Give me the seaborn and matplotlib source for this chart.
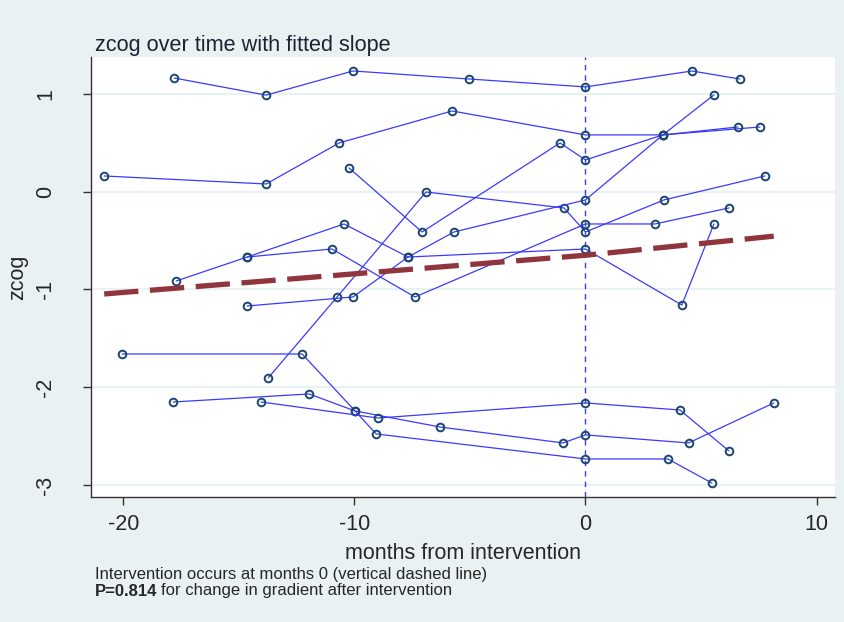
import numpy as np
import pandas as pd
import matplotlib
matplotlib.use("Agg")
import matplotlib.pyplot as plt
import seaborn as sns
from matplotlib import font_manager

# ---- data: months from intervention / zcog per subject ----
s1_months = [-17.80, -13.82, -10.06, -5.04, 0.0, 4.61, 6.68]
s1_zcog = [1.163, 0.988, 1.235, 1.153, 1.072, 1.235, 1.153]

s2_months = [-20.83, -13.82, -10.66, -5.77, 0.0, 3.35, 7.55]
s2_zcog = [0.161, 0.079, 0.499, 0.826, 0.581, 0.581, 0.662]

s3_months = [-10.23, -7.07, -1.10, 0.0, 3.35, 6.60]
s3_zcog = [0.243, -0.412, 0.499, 0.325, 0.581, 0.662]

s4_months = [-13.73, -10.75, -6.90, -0.93, 0.0, 3.40, 7.76]
s4_zcog = [-1.905, -1.077, -0.003, -0.166, -0.412, -0.084, 0.161]

s5_months = [-14.64, -10.06, -7.68, -5.69, 0.0, 3.35, 5.56]
s5_zcog = [-1.169, -1.077, -0.668, -0.412, -0.084, 0.581, 0.990]

s6_months = [-17.71, -14.64, -10.45, -7.68, 0.0, 4.17, 5.56]
s6_zcog = [-0.913, -0.668, -0.330, -0.668, -0.586, -1.159, -0.330]

s7_months = [-14.64, -10.97, -7.38, 0.0, 3.01, 6.21]
s7_zcog = [-0.668, -0.586, -1.077, -0.330, -0.330, -0.166]

s8_months = [-20.05, -12.26, -9.97, -9.06, 0.0, 3.57, 5.47]
s8_zcog = [-1.660, -1.660, -2.243, -2.478, -2.734, -2.734, -2.980]

s9_months = [-17.84, -11.96, -9.97, -6.29, -0.97, 0.0, 4.46, 8.15]
s9_zcog = [-2.151, -2.069, -2.243, -2.407, -2.570, -2.488, -2.570, -2.161]

s10_months = [-14.04, -8.98, 0.0, 4.09, 6.21]
s10_zcog = [-2.151, -2.315, -2.161, -2.233, -2.652]

# fitted piecewise slope (kink at intervention)
fit_months = [-20.83, 0.0, 8.15]
fit_zcog = [-1.046, -0.650, -0.455]

x_ticks = [-20, -10, 0, 10]
y_ticks = [-3, -2, -1, 0, 1]

subjects = [
    (s1_months, s1_zcog), (s2_months, s2_zcog), (s3_months, s3_zcog),
    (s4_months, s4_zcog), (s5_months, s5_zcog), (s6_months, s6_zcog),
    (s7_months, s7_zcog), (s8_months, s8_zcog), (s9_months, s9_zcog),
    (s10_months, s10_zcog),
]
frames = []
for i, (m, z) in enumerate(subjects):
    frames.append(pd.DataFrame({"id": i + 1, "months": m, "zcog": z}))
df = pd.concat(frames, ignore_index=True)

# ---- style ----
bg = "#EAF1F3"
sns.set_theme(style="white")
names = {f.name for f in font_manager.fontManager.ttflist}
narrow = "Liberation Sans Narrow" if "Liberation Sans Narrow" in names else "Liberation Sans"
plt.rcParams["font.family"] = ["Liberation Sans", "DejaVu Sans"]

fig = plt.figure(figsize=(8.44, 6.22), dpi=100, facecolor=bg)
ax = fig.add_axes([91 / 844, 1 - 497 / 622, (835 - 91) / 844, (497 - 57) / 622])
ax.set_facecolor("white")

for yt in y_ticks:
    ax.axhline(yt, color=bg, lw=1.6, zorder=0)

ax.axvline(0, color="#3a3aff", lw=1.0, ls=(0, (4, 3.5)), zorder=1)

sns.lineplot(data=df, x="months", y="zcog", units="id", estimator=None,
             sort=False, color="#3a3aff", lw=0.9, marker="o", ms=5.5,
             mfc="none", mec="#1a476f", mew=1.4, ax=ax, zorder=2, legend=False)

ax.plot(fit_months, fit_zcog, color="#90353b", lw=3.8, ls=(0, (6.5, 2.2)),
        zorder=3, solid_capstyle="butt", dash_capstyle="butt")

ax.set_xlim(-21.4, 10.8)
ax.set_ylim(-3.123, 1.378)
ax.set_xticks(x_ticks)
ax.set_yticks(y_ticks)
ax.set_xticklabels([str(t) for t in x_ticks], fontsize=15.5, family=narrow)
ax.set_yticklabels([str(t) for t in y_ticks], fontsize=15.5, family=narrow,
                   rotation=90, va="center")
ax.tick_params(axis="both", direction="out", length=6, width=1, color="#333333",
               left=True, bottom=True)
ax.tick_params(axis="x", pad=6)
ax.tick_params(axis="y", pad=19)

for side in ["top", "right"]:
    ax.spines[side].set_visible(False)
for side in ["left", "bottom"]:
    ax.spines[side].set_color("#333333")
    ax.spines[side].set_linewidth(1.0)

ax.set_xlabel("months from intervention", fontsize=15.5, family=narrow, labelpad=6)
ax.set_ylabel("zcog", fontsize=15.5, family=narrow)
ax.yaxis.set_label_coords(-(91 - 28) / 744, 0.5)

fig.text(95 / 844, 1 - 45 / 622, "zcog over time with fitted slope", fontsize=15.6,
         color="#1c2333", va="center", ha="left")

fig.text(95 / 844, 1 - 574 / 622, "Intervention occurs at months 0 (vertical dashed line)",
         fontsize=12, family=narrow, va="center", ha="left")
bold = fig.text(95 / 844, 1 - 591 / 622, "P=0.814", fontsize=12, family=narrow,
                weight="bold", va="center", ha="left")
r = fig.canvas.get_renderer()
bb = bold.get_window_extent(renderer=r)
fig.text(bb.x1 / fig.bbox.width + 0.004, 1 - 591 / 622, "for change in gradient after intervention",
         fontsize=12, family=narrow, va="center", ha="left")

fig.savefig("out.png", dpi=100, facecolor=bg)
